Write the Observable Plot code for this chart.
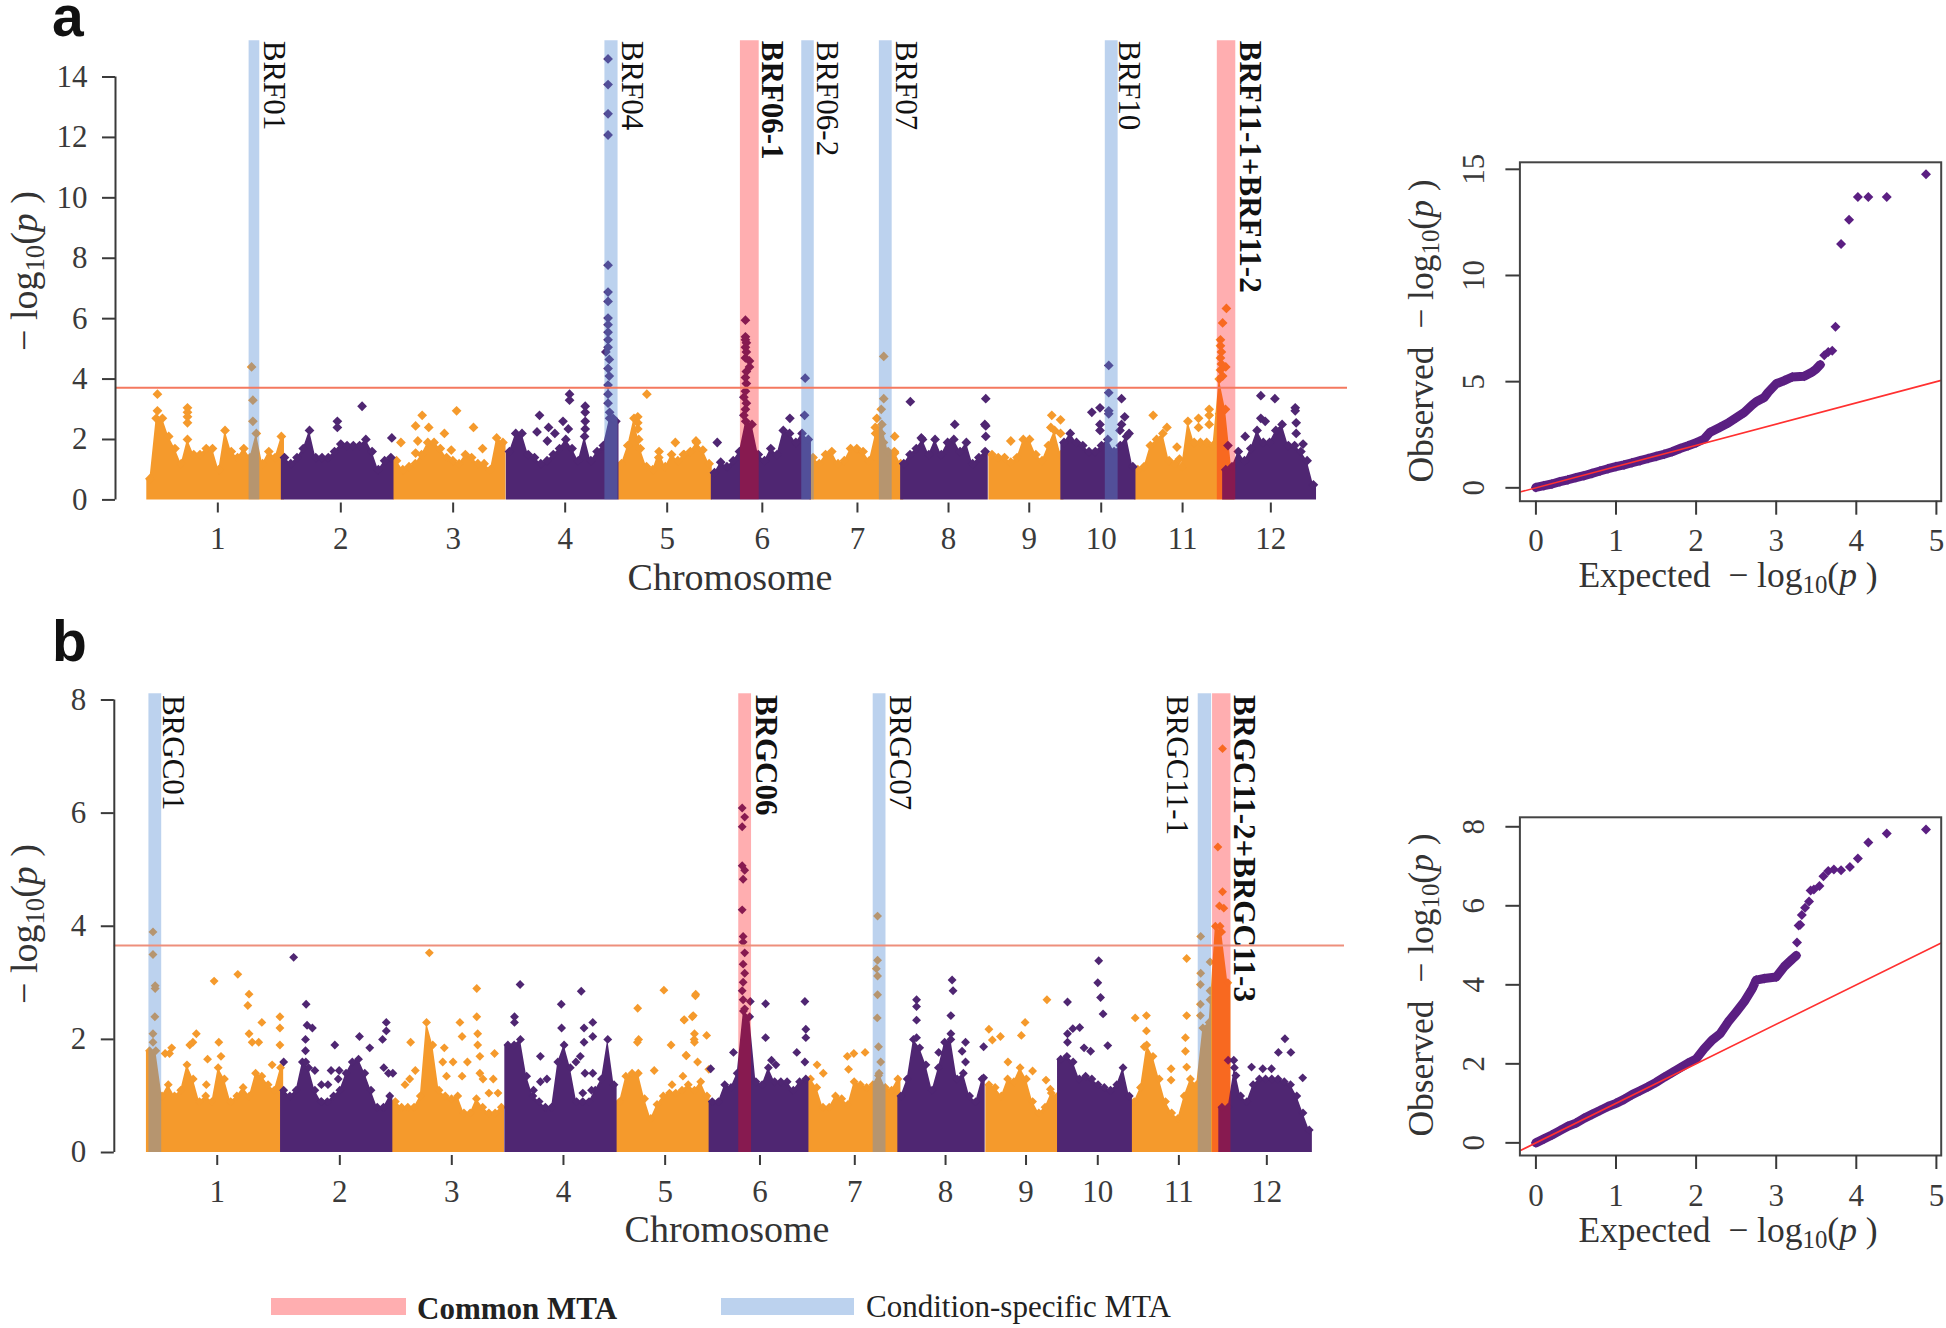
<!DOCTYPE html>
<html>
<head>
<meta charset="utf-8">
<script src="https://cdn.jsdelivr.net/npm/d3@7"></script>
<script src="https://cdn.jsdelivr.net/npm/@observablehq/plot@0.6"></script>
<style>
html,body{margin:0;padding:0;background:#fff;}
#page{position:relative;width:1946px;height:1328px;overflow:hidden;font-family:"Liberation Serif",serif;color:#333;}
#page svg{position:absolute;}
.t{position:absolute;white-space:nowrap;line-height:1;transform:translate(-50%,-50%);}
.r{transform:translate(-50%,-50%) rotate(-90deg);}
.t sub{font-size:.7em;line-height:0;vertical-align:-.25em;}
.letter{position:absolute;font-family:"Liberation Sans",sans-serif;font-weight:700;font-size:57px;line-height:30px;color:#111;}
.sw{position:absolute;height:17px;}
.lg{position:absolute;font-size:31px;line-height:1;color:#222;white-space:nowrap;}
</style>
</head>
<body>
<div id="page"></div>
<script>
// Chromosome layout (Mb along the genome)
const chromStarts = [0,43,78.8,114.9,150.7,180.4,211.9,240.9,269.1,292.1,315.7,343.8];
const chromTicks = [22.7,62,97.9,133.7,166.3,196.7,227.1,256.2,282,305,331,359.2];
const chromLabels = ["1","2","3","4","5","6","7","8","9","10","11","12"];
const stepMb = 2;

// Panel a: upper edge of the dense cloud, per chromosome, one value every 2 Mb
const a01 = [0.7,2.7,2.7,2.1,1.7,1.2,2.0,1.5,1.5,1.7,1.7,1.0,2.3,1.6,1.4,1.7,1.4,2.2,1.2,1.6,1.4,2.1];
const a02 = [1.4,1.2,1.4,1.7,2.3,1.4,1.4,1.4,1.6,1.85,1.8,1.8,1.8,2.0,1.6,1.0,1.3,1.4];
const a03 = [1.3,1.0,1.1,1.2,1.5,1.9,1.9,1.7,1.4,1.3,1.2,1.5,1.4,1.2,1.2,1.0,2.05,1.9];
const a04 = [1.6,2.2,2.2,1.5,1.4,1.2,1.3,1.5,1.7,2.0,1.7,1.3,2.1,1.3,1.6,1.8,2.7,2.6];
const a05 = [1.2,1.8,2.7,1.7,1.1,1.0,1.6,1.1,1.5,1.3,1.5,1.6,1.9,1.65,1.2];
const a06 = [0.9,1.25,1.1,1.3,1.6,2.6,2.5,1.5,1.3,1.7,1.5,2.3,2.2,1.9,2.2,2.0];
const a07 = [1.4,1.2,1.5,1.6,1.2,1.3,1.7,1.7,1.6,1.3,2.2,2.5,1.6,1.6,1.2];
const a08 = [1.2,1.5,1.7,2.0,1.5,2.0,1.5,1.9,2.0,1.6,1.9,1.2,1.4,1.6];
const a09 = [1.5,1.4,1.4,1.25,1.4,2.0,2.0,1.5,1.3,1.8,2.3,1.5];
const a10 = [1.9,2.2,1.9,1.8,1.6,1.6,1.8,2.0,1.6,1.8,2.1,1.1];
const a11 = [1.0,1.1,1.8,2.0,2.2,1.3,1.2,1.1,2.6,1.9,1.9,1.9,1.8,4.0,3.0,1.0];
const a12 = [1.0,1.1,1.6,1.3,1.7,2.3,1.9,1.9,2.3,2.5,1.8,1.8,1.6,1.3,0.5];

// Panel a: individual points above the cloud [Mb, -log10 p]
const aOrangePts = [[3.4,3.5],[3.4,2.95],[13,3.05],[13,2.9],[13,2.75],[13,2.55],[33.5,4.4],[33.9,3.3],[33.9,2.6],
[81.2,1.9],[85.9,2.45],[85.9,1.55],[86.6,1.95],[88,2.8],[90.1,2.4],[95.1,2.2],[97.3,1.65],[99,2.95],[104.4,2.4],[107.3,1.7],
[159.8,3.5],[156.9,2.75],[156.9,2.55],[156.9,2.35],[157.2,2.0],[175.5,1.95],[168.9,1.9],[171.5,1.5],[163.6,1.4],
[235.5,4.75],[235.5,3.35],[234.7,3.0],[233.3,2.7],[232.8,2.4],[234.7,2.2],[235.4,1.9],[239,2.1],[239,1.55],
[289.2,2.8],[292,2.65],[292,2.2],[276.1,1.95],[288.9,2.4],
[321.6,2.8],[326,2.4],[329.2,1.75],[330,1.35],[336.1,2.7],[336.1,2.4],[339.5,3.0],[339.5,2.8],[339.5,2.5],[342.8,2.85],[342.8,2.3],
[343.1,5.3],[343.1,5.1],[343.4,4.9],[343.1,4.7],[343.4,4.5],[343.1,4.3],[343.8,5.86],[345,6.34],[344.8,4.4],[343.8,4.1]];
const aPurplePts = [[60.9,2.6],[60.9,2.4],[68.8,3.1],[78.3,2.05],
[125.5,2.8],[124.7,2.25],[128.4,2.4],[128,1.95],[130.4,2.2],[133,2.6],[134.7,2.35],[135.1,3.5],[135.1,3.3],[140.1,3.1],[140.1,2.9],[140.1,2.6],[140.1,2.35],
[147.4,14.6],[147.4,13.75],[147.4,12.78],[147.4,12.08],[147.4,7.77],[147.4,6.88],[147.4,6.57],[147.4,6.02],[147.4,5.8],[147.4,5.55],[147.4,5.3],[147.4,5.05],[146.7,4.9],[147.8,4.65],[147.4,4.35],[147.8,4.1],[147.4,3.8],[147.4,3.5],[147.4,3.2],[147.9,2.9],[149,2.7],
[191.3,5.95],[191.3,5.4],[191.3,5.3],[191.6,5.2],[191.3,5.05],[191.6,4.9],[191.3,4.7],[192.6,4.6],[192.6,4.4],[191.6,4.25],[191.3,4.05],[191.6,3.85],[191.3,3.6],[190.8,3.4],[191.6,3.2],[191.3,3.0],[190.8,2.8],
[182.3,1.9],[205.5,2.7],[210.2,2.8],[210.4,4.03],
[244,3.25],[268.1,3.35],[258.2,2.5],[267.8,2.5],[268.1,2.45],[268.1,2.1],[247.5,2.05],
[302,2.9],[304.6,3.05],[304.6,2.5],[304.6,2.3],[307.4,4.45],[307.4,3.55],[307.4,2.95],[307.4,2.85],[311.5,3.35],[312.5,2.75],[311.5,2.5],[311,2.3],[313.9,2.2],
[345.5,1.8],[356,3.45],[360.5,3.35],[367,3.05],[367,2.95],[367.3,2.55],[367.3,2.2],[369.5,1.85],[351,2.1],[356,2.7],[357.4,2.6]];

// Panel b: upper edge of the dense cloud
const b01 = [1.8,1.8,1.0,1.2,1.0,1.1,1.55,1.3,0.9,1.0,0.9,1.5,1.3,0.9,1.0,1.15,1.0,1.4,1.35,1.2,1.1,1.5];
const b02 = [1.1,1.0,1.1,1.6,1.5,1.1,0.9,0.9,1.0,1.1,1.4,1.6,1.65,1.4,1.1,0.8,0.8,1.0];
const b03 = [0.9,0.8,0.8,0.8,1.0,2.3,1.9,1.1,1.0,0.95,1.0,0.7,0.7,0.95,0.8,0.7,0.7,0.8];
const b04 = [1.9,1.9,2.0,1.35,1.0,0.9,0.8,0.8,1.6,1.9,1.5,0.9,0.9,0.9,1.1,1.3,2.0,1.2];
const b05 = [0.9,1.35,1.4,1.4,0.95,0.6,0.85,1.0,1.05,1.05,1.1,1.2,1.1,1.25,1.0];
const b06 = [0.9,0.9,1.2,1.15,1.4,2.5,2.4,1.25,1.2,1.5,1.25,1.25,1.25,1.1,1.25,1.3];
const b07 = [1.3,1.15,0.8,0.8,1.0,0.95,0.85,1.25,1.2,1.15,1.2,1.4,1.15,1.1,1.3];
const b08 = [1.0,1.3,2.0,1.85,1.55,1.1,1.5,1.95,2.0,1.3,1.4,1.0,0.9,1.3];
const b09 = [1.2,1.15,1.0,1.3,1.25,1.5,1.3,0.9,0.7,0.8,1.05,1.0];
const b10 = [1.65,1.7,1.6,1.3,1.35,1.3,1.2,1.15,1.1,1.2,1.5,1.0];
const b11 = [0.9,1.15,1.9,1.7,1.3,0.9,0.7,0.6,1.0,1.3,1.2,2.2,2.3,4.0,3.9,3.0];
const b12 = [0.8,0.8,1.5,1.0,0.9,1.2,1.3,1.3,1.3,1.3,1.25,1.2,1.0,0.7,0.4];

const bOrangePts = [[2.1,3.9],[2.1,3.5],[2.8,2.95],[2.8,2.9],[2.7,2.4],[2.1,2.1],[2.1,1.95],[7.4,1.75],[6,1.75],[8.1,1.85],[13.9,1.9],[16,2.1],[14.9,1.95],[19.6,1.65],[19.2,1.2],[21.7,3.03],[23.2,1.95],[23.9,1.7],[29.3,3.15],[32.9,2.8],[32.5,2.6],[32.9,2.1],[33.9,1.95],[36,1.95],[37,2.3],[40.3,1.55],[42.8,2.4],[42.8,2.2],[42.8,1.9],
[90.7,3.53],[84.7,1.95],[86.2,1.45],[82.9,1.2],[84.4,1.3],[95.5,1.85],[95,1.6],[98.3,1.6],[96.2,1.35],[100.5,2.3],[101.2,2.05],[102.9,1.6],[101.2,1.35],[105.9,2.9],[105.9,2.4],[106.2,2.1],[106.2,1.9],[106.9,1.7],[106.9,1.4],[107.9,1.3],[111.6,1.75],[111.2,1.3],[109.8,1.05],[112.7,1.05],
[157.5,2.55],[157.8,2.0],[157.4,1.95],[162.8,1.45],[165.9,2.87],[168.2,1.9],[168.5,1.2],[172,1.35],[173,1.72],[172.4,2.35],[175,2.4],[175.7,2.1],[175.7,1.95],[176.1,2.8],[176,2.77],[175.3,2.42],[172.4,2.34],[175.6,2.0],[179.6,2.07],[173.1,1.71],[176.7,1.6],[180.3,1.47],
[215,1.55],[217,1.4],[224.7,1.7],[226.8,1.75],[230.4,1.77],[225.1,1.47],[234.4,4.18],[234.4,3.4],[234,3.25],[234.4,3.12],[234.4,2.79],[234.3,2.38],[234.7,1.87],[235.4,1.6],[234.7,1.36],
[270.1,2.18],[273.8,2.05],[271.2,1.99],[280.5,2.07],[281.7,2.3],[288.7,2.7],[276.2,1.6],[284.1,1.44],[289.8,1.12],[288.4,1.28],
[317,2.38],[320.6,2.42],[320.6,2.15],[319.9,1.87],[328.5,1.48],[328.5,1.28],[333.5,3.43],[338,3.82],[338,3.17],[337.9,2.97],[337.9,2.62],[337.9,2.42],[341,3.37],[341,2.86],[341,2.7],[333.5,2.42],[333.1,2.03],[333.1,1.79],[333.5,1.51],
[345,7.14],[343.5,5.4],[345,4.61],[344,4.36],[345.4,4.32],[344.2,4.0]];
const bPurplePts = [[44,1.6],[47.2,3.45],[51.2,2.62],[51.5,2.25],[53.2,2.2],[51,2.0],[51,1.8],[51.1,1.6],[54,1.45],[56.1,1.2],[58.2,1.2],[56.1,0.9],[60.4,1.9],[59.2,1.45],[61.8,1.45],[61.5,1.3],[68.3,2.05],[71.6,1.85],[76.9,2.3],[76.9,2.15],[75.7,2.0],[76.1,1.5],[79,1.4],[77.6,1.4],
[119.8,2.97],[118,2.4],[118,2.3],[126.3,1.7],[128.4,1.3],[126.3,1.25],[124.1,1.1],[133,2.62],[133.1,2.2],[139.4,2.85],[140.3,2.2],[143.1,2.3],[143.1,2.05],[140.3,1.95],[139.1,1.7],[137.7,1.6],[140.6,1.4],[143.1,1.4],[142.7,1.1],[139.9,1.05],
[191,6.09],[191.8,5.93],[191,5.76],[191,5.07],[191.8,4.99],[191.3,4.83],[191,4.29],[191.3,3.82],[191.3,3.72],[191.8,3.53],[191.3,3.33],[191.8,3.17],[191.3,3.01],[191,2.86],[191.3,2.7],[191.8,2.54],
[180.9,1.48],[188.2,1.77],[193.6,2.67],[198.5,2.63],[198.5,2.03],[200.4,1.63],[201.8,1.55],[208.5,1.77],[211.1,2.67],[211.4,2.18],[211.4,2.03],[211.1,1.6],
[246.9,2.7],[246.9,2.58],[246.9,2.34],[246.9,2.03],[258.3,3.05],[258.6,2.86],[257.9,2.42],[257.9,2.1],[254,1.77],[262.6,1.95],[261.5,1.79],[262.6,1.6],[268.4,1.87],[268.4,1.32],
[305.3,3.39],[305,3.0],[305.9,2.74],[306.7,2.45],[295.3,2.66],[299.2,2.21],[297,2.19],[295.3,2.1],[295.3,1.95],[308.2,1.89],[300.6,1.85],[302.7,1.79],
[365,2.01],[362.9,1.77],[366.9,1.77],[354.3,1.51],[357.9,1.48],[360.7,1.48],[370.7,1.32],[348.6,1.63],[346.8,1.63],[349.3,1.36]];

// Highlight bands [Mb start, Mb end]
const aBlueBands = [[32.7,36.1],[146.4,150.6],[209.3,213.3],[234.1,238.2],[306.3,310.4]];
const aRedBands = [[189.7,195.7],[342.1,348.0]];
const bBlueBands = [[0.8,4.9],[233.0,237.1],[337.2,341.5]];
const bRedBands = [[189.9,194.0],[341.8,347.7]];

const aLabelNames = ["BRF01","BRF04","BRF06-1","BRF06-2","BRF07","BRF10","BRF11-1+BRF11-2"];
const aLabelPos = [40.5,154.9,199.8,217.3,242.6,313.9,352.4];
const aLabelBold = [0,0,1,0,0,0,1];
const bLabelNames = ["BRGC01","BRGC06","BRGC07","BRGC11-1","BRGC11-2+BRGC11-3"];
const bLabelPos = [8.6,198.7,241.7,330.5,351.9];
const bLabelBold = [0,1,0,0,1];

// QQ plots [expected, observed]
const qqAdense = [[0,0.02],[0.1,0.1],[0.2,0.18],[0.3,0.29],[0.4,0.38],[0.5,0.48],[0.6,0.57],[0.7,0.68],[0.8,0.79],[0.9,0.9],[1,1.0],[1.1,1.08],[1.2,1.18],[1.3,1.28],[1.4,1.38],[1.5,1.48],[1.6,1.58],[1.7,1.7],[1.8,1.85],[1.9,1.98],[2,2.12],[2.1,2.3],[2.17,2.6],[2.3,2.85],[2.4,3.05],[2.5,3.3],[2.6,3.55],[2.7,3.9],[2.75,4.05],[2.85,4.25],[2.9,4.5],[3,4.9],[3.1,5.05],[3.2,5.22],[3.35,5.25],[3.45,5.45],[3.5,5.6],[3.55,5.8]];
const qqAtail = [[3.6,6.24],[3.65,6.4],[3.7,6.46],[3.74,7.58],[3.81,11.48],[3.91,12.62],[4.02,13.7],[4.15,13.7],[4.38,13.7],[4.87,14.77]];
const qqBdense = [[0,0.0],[0.1,0.1],[0.2,0.2],[0.3,0.31],[0.4,0.42],[0.5,0.5],[0.6,0.62],[0.7,0.72],[0.8,0.82],[0.9,0.92],[1,1.0],[1.1,1.1],[1.2,1.22],[1.3,1.32],[1.4,1.42],[1.5,1.53],[1.6,1.66],[1.7,1.78],[1.8,1.9],[1.9,2.02],[2,2.12],[2.1,2.38],[2.2,2.6],[2.3,2.76],[2.4,3.06],[2.5,3.31],[2.6,3.57],[2.7,3.9],[2.75,4.12],[2.85,4.16],[3,4.2],[3.1,4.46],[3.2,4.65],[3.25,4.74]];
const qqBtail = [[3.26,5.07],[3.28,5.5],[3.3,5.52],[3.32,5.77],[3.36,5.95],[3.41,6.11],[3.43,6.39],[3.47,6.41],[3.54,6.5],[3.59,6.75],[3.65,6.88],[3.72,6.92],[3.81,6.9],[3.92,6.98],[4.02,7.2],[4.15,7.6],[4.38,7.83],[4.87,7.93]];
const qqAxisX = [0,1,2,3,4,5];

const ORANGE = "#f59a2c", PURPLE = "#4f2672", QQP = "#5b1f82", INK = "#3a3a3a";
const BLUE_INK = "rgb(88,142,212)", RED_INK = "rgb(255,2,8)";
const page = document.getElementById("page");

function cloud(chroms, color){
  const out = [];
  chroms.forEach((vals, k) => {
    if ((k % 2 === 0) !== (color === ORANGE)) return;
    const s = chromStarts[k];
    out.push({k, x: s, y: vals[0], tip: false});
    vals.forEach((v, i) => out.push({k, x: s + stepMb/2 + i*stepMb, y: v, tip: true}));
    out.push({k, x: s + vals.length*stepMb, y: vals[vals.length-1], tip: false});
  });
  return out;
}
function bandMarks(list, color, alpha, top){
  return Plot.rect(list, {x1: d => d[0], x2: d => d[1], y1: 0, y2: top, fill: color, fillOpacity: alpha});
}
function manhattan(o){
  const orange = cloud(o.chroms, ORANGE), purple = cloud(o.chroms, PURPLE);
  const labels = o.names.map((n, i) => ({n, x: o.pos[i], b: o.bold[i]}));
  const sharedDot = {symbol: "diamond2", r: o.r};
  const labelStyle = {x: "x", y: o.labelY, text: "n", rotate: 90, textAnchor: "start", fontSize: 31, fontFamily: "Liberation Serif", fill: "#111"};
  const svg = Plot.plot({
    width: 1380, height: o.height,
    marginLeft: o.ml, marginRight: 1380 - o.mr, marginTop: 20, marginBottom: o.mb,
    style: {background: "transparent", fontFamily: "Liberation Serif", color: INK, overflow: "visible"},
    x: {domain: o.xd}, y: {domain: [0, o.ymax], range: o.yr},
    marks: [
      Plot.areaY(orange, {x: "x", y: "y", z: "k", fill: ORANGE}),
      Plot.dot(orange.filter(d => d.tip), {x: "x", y: "y", fill: ORANGE, ...sharedDot}),
      Plot.dot(o.oPts, {x: d => d[0], y: d => d[1], fill: ORANGE, ...sharedDot}),
      Plot.areaY(purple, {x: "x", y: "y", z: "k", fill: PURPLE}),
      Plot.dot(purple.filter(d => d.tip), {x: "x", y: "y", fill: PURPLE, ...sharedDot}),
      Plot.dot(o.pPts, {x: d => d[0], y: d => d[1], fill: PURPLE, ...sharedDot}),
      bandMarks(o.blue, BLUE_INK, 0.4, o.top),
      bandMarks(o.red, RED_INK, 0.32, o.top),
      Plot.ruleY([o.thr], {stroke: o.thrColor, strokeWidth: 2}),
      Plot.ruleX([o.xd[0]], {y1: 0, y2: o.ymax, stroke: INK, strokeWidth: 2}),
      Plot.axisY({ticks: d3.range(0, o.ymax + 1, 2), tickSize: 13, tickPadding: 15, fontSize: 31, label: null, stroke: INK, strokeWidth: 2}),
      Plot.axisX({ticks: chromTicks, tickFormat: (d, i) => chromLabels[i], tickSize: 10, tickPadding: 14, fontSize: 31, label: null, stroke: INK, strokeWidth: 2}),
      Plot.text(labels.filter(d => !d.b), labelStyle),
      Plot.text(labels.filter(d => d.b), {...labelStyle, fontWeight: "bold"})
    ]
  });
  svg.style.left = "0px"; svg.style.top = o.top0 + "px";
  page.appendChild(svg);
}
function qq(o){
  const svg = Plot.plot({
    width: 566, height: 430,
    marginLeft: 139.4, marginRight: 5.3, marginTop: o.mt, marginBottom: o.mb,
    style: {background: "transparent", fontFamily: "Liberation Serif", color: INK, overflow: "visible"},
    x: {domain: [-0.2, 5.06]}, y: {domain: o.yd},
    marks: [
      Plot.line(o.dense, {x: d => d[0], y: d => d[1], stroke: QQP, strokeWidth: 9}),
      Plot.dot(o.dense, {x: d => d[0], y: d => d[1], fill: QQP, symbol: "diamond2", r: 4.5}),
      Plot.dot(o.tail, {x: d => d[0], y: d => d[1], fill: QQP, symbol: "diamond2", r: 4.5}),
      Plot.line([[-0.2,-0.2],[5.06,5.06]], {x: d => d[0], y: d => d[1], stroke: "#ff3030", strokeWidth: 1.6}),
      Plot.frame({stroke: "#444", strokeWidth: 2}),
      Plot.axisX({ticks: qqAxisX, tickFormat: d3.format("d"), tickSize: 14, tickPadding: 14, fontSize: 31, label: null, stroke: INK, strokeWidth: 2}),
      Plot.axisY({ticks: o.yt, tickFormat: d3.format("d"), tickSize: 14, tickPadding: 22, tickRotate: -90, fontSize: 31, label: null, stroke: INK, strokeWidth: 2})
    ]
  });
  svg.style.left = "1380px"; svg.style.top = o.top0 + "px";
  page.appendChild(svg);
}

manhattan({chroms: [a01,a02,a03,a04,a05,a06,a07,a08,a09,a10,a11,a12], oPts: aOrangePts, pPts: aPurplePts,
  blue: aBlueBands, red: aRedBands, names: aLabelNames, pos: aLabelPos, bold: aLabelBold,
  height: 620, top0: 0, ml: 115, mr: 1347, mb: 117.5, xd: [-10, 383.7], ymax: 14, yr: [499.4, 76.5],
  top: 15.2, labelY: 15.2, thr: 3.71, thrColor: "#f4795f", r: 4.4});
manhattan({chroms: [b01,b02,b03,b04,b05,b06,b07,b08,b09,b10,b11,b12], oPts: bOrangePts, pPts: bPurplePts,
  blue: bBlueBands, red: bRedBands, names: bLabelNames, pos: bLabelPos, bold: bLabelBold,
  height: 650, top0: 620, ml: 113.8, mr: 1344, mb: 115, xd: [-10.3, 384.1], ymax: 8, yr: [532, 79.5],
  top: 8.11, labelY: 8.09, thr: 3.66, thrColor: "#ee8f7c", r: 4});
qq({dense: qqAdense, tail: qqAtail, yd: [-0.63, 15.33], yt: [0,5,10,15], mt: 31.8, mb: 59.3, top0: 130});
qq({dense: qqBdense, tail: qqBtail, yd: [-0.32, 8.24], yt: [0,2,4,6,8], mt: 26.8, mb: 65, top0: 790});

function html(cls, x, y, content, extra){
  const d = document.createElement("div");
  d.className = cls;
  d.style.left = x + "px"; d.style.top = y + "px";
  d.innerHTML = content;
  if (extra) Object.assign(d.style, extra);
  page.appendChild(d);
}
const LOGP = "&minus; log<sub>10</sub>(<i>p</i> )";
html("letter", 52, 1, "a");
html("letter", 52, 626, "b");
html("t r", 24, 271, LOGP, {fontSize: "38px"});
html("t r", 24, 924, LOGP, {fontSize: "38px"});
html("t", 730, 577, "Chromosome", {fontSize: "38px"});
html("t", 727, 1229, "Chromosome", {fontSize: "38px"});
html("t r", 1422, 331, "Observed &nbsp;" + LOGP, {fontSize: "35.5px"});
html("t r", 1422, 985, "Observed &nbsp;" + LOGP, {fontSize: "35.5px"});
html("t", 1728, 576, "Expected &nbsp;" + LOGP, {fontSize: "35.5px"});
html("t", 1728, 1231, "Expected &nbsp;" + LOGP, {fontSize: "35.5px"});
html("sw", 271, 1298, "", {width: "135px", background: "#ffaeb0"});
html("sw", 720.6, 1298, "", {width: "133.4px", background: "#bcd2ee"});
html("lg", 417, 1293, "Common MTA", {fontWeight: "bold"});
html("lg", 866, 1291, "Condition-specific MTA");
</script>
</body>
</html>
